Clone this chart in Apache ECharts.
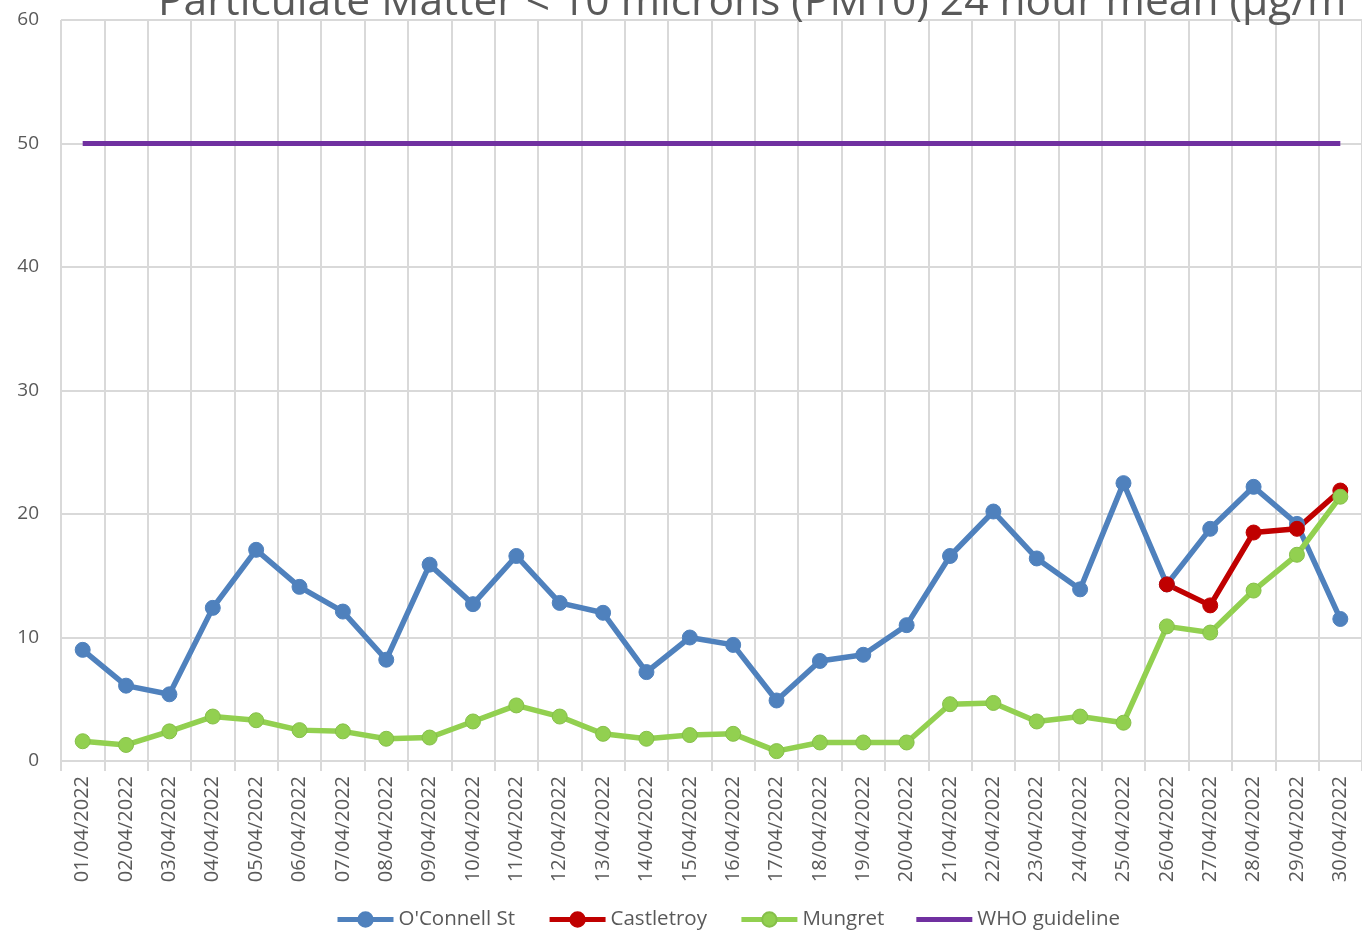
<!DOCTYPE html>
<html>
<head>
<meta charset="utf-8">
<script src="https://cdn.jsdelivr.net/npm/echarts@6/dist/echarts.min.js"></script>
<style>
  html, body { margin: 0; padding: 0; background: #fff; }
  #main { width: 1362px; height: 932px; }
</style>
</head>
<body>
<div id="main"></div>
<script>
// dates on the x axis
var dates = [];
for (var d = 1; d <= 30; d++) {
  dates.push((d < 10 ? '0' + d : '' + d) + '/04/2022');
}

var oconnell = [9.0, 6.1, 5.4, 12.4, 17.1, 14.1, 12.1, 8.2, 15.9, 12.7,
  16.6, 12.8, 12.0, 7.2, 10.0, 9.4, 4.9, 8.1, 8.6, 11.0,
  16.6, 20.2, 16.4, 13.9, 22.5, 14.3, 18.8, 22.2, 19.2, 11.5];

var castletroy = [null, null, null, null, null, null, null, null, null, null,
  null, null, null, null, null, null, null, null, null, null,
  null, null, null, null, null, 14.3, 12.6, 18.5, 18.8, 21.9];

var mungret = [1.6, 1.3, 2.4, 3.6, 3.3, 2.5, 2.4, 1.8, 1.9, 3.2,
  4.5, 3.6, 2.2, 1.8, 2.1, 2.2, 0.8, 1.5, 1.5, 1.5,
  4.6, 4.7, 3.2, 3.6, 3.1, 10.9, 10.4, 13.8, 16.7, 21.4];

var who = [];
for (var i = 0; i < 30; i++) who.push(50);

var textFont = 'Open Sans';
var textColor = '#595959';

var chart = echarts.init(document.getElementById('main'));

function lineSeries(name, data, color, border) {
  return {
    name: name,
    type: 'line',
    data: data,
    symbol: 'circle',
    symbolSize: 15,
    lineStyle: { width: 5.5, color: color },
    itemStyle: { color: color, borderColor: border, borderWidth: 1 },
    emphasis: { disabled: true }
  };
}

var option = {
  animation: false,
  title: {
    text: 'Particulate Matter < 10 microns (PM10) 24 hour mean (µg/m³)',
    left: 153,
    top: -24,
    textStyle: { fontFamily: textFont, fontSize: 42.5, fontWeight: 'normal', color: textColor }
  },
  grid: {
    left: 61,
    right: -2,
    top: 20,
    bottom: 171,
    containLabel: false
  },
  legend: {
    top: 904,
    left: 330,
    itemWidth: 56,
    itemHeight: 18,
    itemGap: 32,
    lineStyle: { width: 5 },
    textStyle: { fontFamily: textFont, fontSize: 20.5, color: textColor },
    data: [
      "O'Connell St",
      'Castletroy',
      'Mungret',
      { name: 'WHO guideline', icon: 'path://M0,0H56V5H0Z' }
    ]
  },
  xAxis: {
    type: 'category',
    data: dates,
    boundaryGap: true,
    axisLine: { lineStyle: { color: '#d9d9d9', width: 2 } },
    axisTick: { show: true, length: 10, lineStyle: { color: '#d9d9d9', width: 2 } },
    axisLabel: {
      rotate: 90,
      interval: 0,
      margin: 15,
      fontFamily: textFont,
      fontSize: 20,
      color: textColor
    },
    splitLine: { show: true, lineStyle: { color: '#d9d9d9', width: 2 } }
  },
  yAxis: {
    type: 'value',
    min: 0,
    max: 60,
    interval: 10,
    axisLine: { show: false },
    axisTick: { show: false },
    axisLabel: { fontFamily: textFont, fontSize: 19, color: textColor, margin: 22 },
    splitLine: { lineStyle: { color: '#d9d9d9', width: 2 } }
  },
  series: [
    lineSeries("O'Connell St", oconnell, '#4f81bd', '#4f81bd'),
    lineSeries('Castletroy', castletroy, '#c00000', '#c00000'),
    lineSeries('Mungret', mungret, '#92d050', '#86bf4a'),
    {
      name: 'WHO guideline',
      type: 'line',
      data: who,
      symbol: 'none',
      lineStyle: { width: 5, color: '#7030a0' },
      itemStyle: { color: '#7030a0' },
      emphasis: { disabled: true }
    }
  ]
};

chart.setOption(option);
</script>
</body>
</html>
